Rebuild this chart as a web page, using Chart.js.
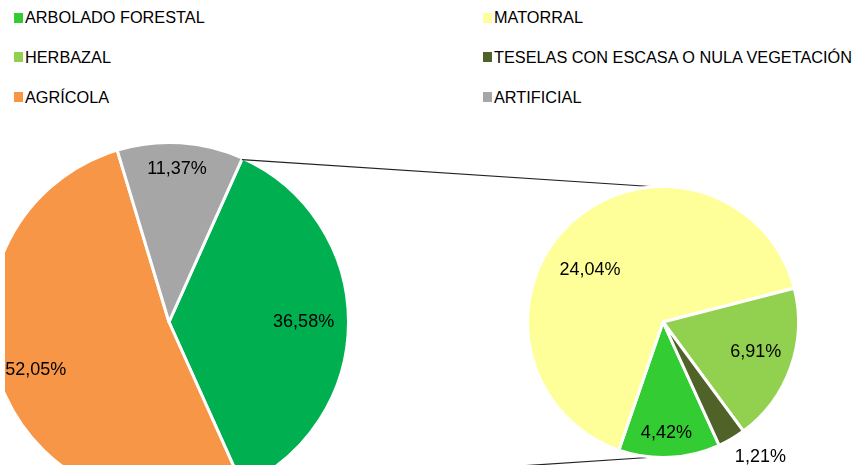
<!DOCTYPE html>
<html><head><meta charset="utf-8">
<script src="https://cdn.jsdelivr.net/npm/chart.js@4"></script>
<style>
html,body{margin:0;padding:0;background:#fff;width:853px;height:469px;overflow:hidden;font-family:"Liberation Sans",Arial,sans-serif;}
#legend{position:absolute;left:0;top:0;width:853px;height:120px;}
.sw{position:absolute;width:9px;height:10px;}
.tx{position:absolute;font-size:16.3px;line-height:16px;white-space:nowrap;color:#000;}
#wrap{position:absolute;left:5px;top:0;width:848px;height:465px;overflow:hidden;}
#wrap canvas{position:absolute;left:0;top:0;}
</style></head>
<body>
<div id="legend"></div>
<div id="wrap"><canvas id="main" width="848" height="465"></canvas><canvas id="sub" width="848" height="465"></canvas></div>
<script>
// ---- data ----
const categories = ['ARBOLADO FORESTAL', 'MATORRAL', 'HERBAZAL', 'TESELAS CON ESCASA O NULA VEGETACIÓN', 'AGRÍCOLA', 'ARTIFICIAL'];
const categoryColors = ['#33CC33', '#FFFF99', '#92D050', '#4F6228', '#F79646', '#A6A6A6'];

const mainCategories = ['VEGETACIÓN', 'AGRÍCOLA', 'ARTIFICIAL'];
const mainValues = [36.58, 52.05, 11.37];
const mainColors = ['#00B050', '#F79646', '#A6A6A6'];

const subCategories = ['ARBOLADO FORESTAL', 'MATORRAL', 'HERBAZAL', 'TESELAS CON ESCASA O NULA VEGETACIÓN'];
const subValues = [4.42, 24.04, 6.91, 1.21];
const subColors = ['#33CC33', '#FFFF99', '#92D050', '#4F6228'];

// ---- label placement styles: [radius factor, angle shift in degrees] ----
const mainLabelPlace = [[0.75, 0], [0.79, 0.5], [0.855, -0.7]];
const subLabelPlace = [[0.82, 1], [0.66, -12], [0.72, -1.7], [1.23, -5.3]];

// ---- legend ----
const legend = document.getElementById('legend');
categories.forEach((c, i) => {
  const col = i % 2, row = Math.floor(i / 2);
  const x = col === 0 ? 14 : 483;
  const sw = document.createElement('div');
  sw.className = 'sw';
  sw.style.left = x + 'px';
  sw.style.top = (12.5 + 39.5 * row) + 'px';
  sw.style.background = categoryColors[i];
  legend.appendChild(sw);
  const tx = document.createElement('div');
  tx.className = 'tx';
  tx.style.left = (x + 11) + 'px';
  tx.style.top = (9 + 39.8 * row) + 'px';
  tx.textContent = c;
  legend.appendChild(tx);
});

function fmt(v) { return v.toFixed(2).replace('.', ',') + '%'; }

function labelPlugin(values, place) {
  return {
    id: 'sliceLabels',
    afterDatasetsDraw(chart) {
      const ctx = chart.ctx;
      const arcs = chart.getDatasetMeta(0).data;
      ctx.save();
      ctx.font = '18px "Liberation Sans", Arial, sans-serif';
      ctx.fillStyle = '#000';
      ctx.textAlign = 'center';
      ctx.textBaseline = 'middle';
      arcs.forEach((a, i) => {
        const mid = (a.startAngle + a.endAngle) / 2 + place[i][1] * Math.PI / 180;
        const d = place[i][0] * a.outerRadius;
        ctx.fillText(fmt(values[i]), a.x + d * Math.cos(mid), a.y + d * Math.sin(mid));
      });
      ctx.restore();
    }
  };
}

const mainTotal = mainValues.reduce((s, v) => s + v, 0);
const mainChart = new Chart(document.getElementById('main'), {
  type: 'pie',
  data: {
    labels: mainCategories,
    datasets: [{ data: mainValues, backgroundColor: mainColors, borderColor: '#fff', borderWidth: 3, clip: false }]
  },
  options: {
    responsive: false, animation: false, devicePixelRatio: 1,
    rotation: 90 - 180 * mainValues[0] / mainTotal,
    radius: 179.5,
    layout: { padding: { left: 0, right: 520, top: 179, bottom: 0 } },
    plugins: { legend: { display: false }, tooltip: { enabled: false } }
  },
  plugins: [labelPlugin(mainValues, mainLabelPlace)]
});

const connectorPlugin = {
  id: 'connectors',
  beforeDatasetsDraw(chart) {
    const m = mainChart.getDatasetMeta(0).data[0];
    const s = chart.getDatasetMeta(0).data[0];
    const r = m.outerRadius - 1.5;
    const ctx = chart.ctx;
    ctx.save();
    ctx.strokeStyle = '#222';
    ctx.lineWidth = 1.2;
    ctx.beginPath();
    ctx.moveTo(m.x + r * Math.cos(m.startAngle), m.y + r * Math.sin(m.startAngle));
    ctx.lineTo(s.x + 3, s.y - s.outerRadius + 1);
    ctx.moveTo(m.x + r * Math.cos(m.endAngle), m.y + r * Math.sin(m.endAngle));
    ctx.lineTo(s.x, s.y + s.outerRadius - 1);
    ctx.stroke();
    ctx.restore();
  }
};

const subChart = new Chart(document.getElementById('sub'), {
  type: 'pie',
  data: {
    labels: subCategories,
    datasets: [{ data: subValues, backgroundColor: subColors, borderColor: '#fff', borderWidth: 3, clip: false }]
  },
  options: {
    responsive: false, animation: false, devicePixelRatio: 1,
    rotation: 155.5,
    radius: 135.5,
    layout: { padding: { left: 468, right: 0, top: 179, bottom: 0 } },
    plugins: { legend: { display: false }, tooltip: { enabled: false } }
  },
  plugins: [connectorPlugin, labelPlugin(subValues, subLabelPlace)]
});
</script>
</body></html>
